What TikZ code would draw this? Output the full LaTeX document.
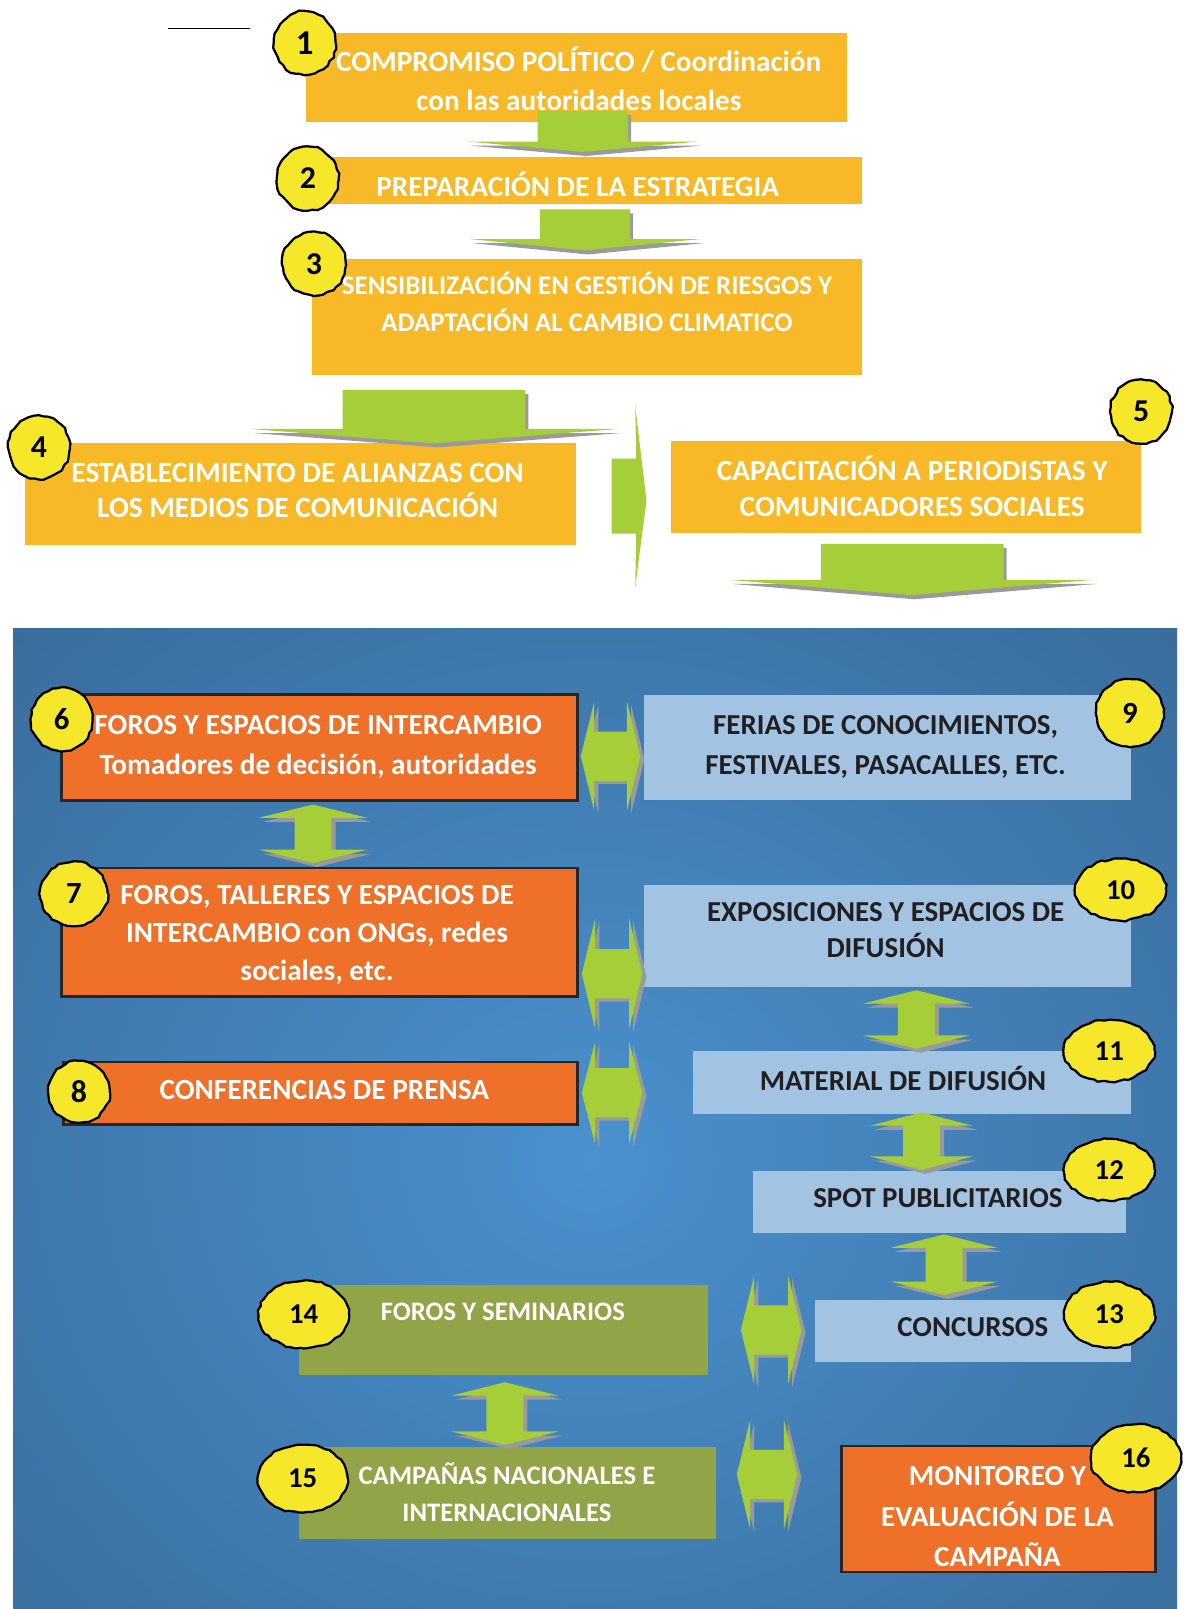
\documentclass[tikz,border=0pt]{standalone}
\usepackage{fontspec}
\setmainfont{Carlito}
\usetikzlibrary{shapes.geometric,decorations.pathmorphing}
\definecolor{topbox}{HTML}{F7B928}
\definecolor{arrg}{HTML}{A6CE39}
\definecolor{shad}{HTML}{9A9A9A}
\definecolor{orng}{HTML}{EE7029}
\definecolor{lblue}{HTML}{A2C4E2}
\definecolor{olive}{HTML}{91A447}
\definecolor{badgey}{HTML}{F6E72A}
\definecolor{bgdark}{HTML}{35638F}
\definecolor{bglight}{HTML}{4A91CE}
\definecolor{darktext}{HTML}{231F20}
\newcommand\mkbox[6]{\node[#6, minimum width={(#4-#2)*0.5pt}, minimum height={(#5-#3)*0.5pt}] (#1) at ({(#2+#4)/2},{(#3+#5)/2}) {};}
\newcommand\mkbadge[7]{\node[badge, minimum width={#4*0.5pt}, minimum height={#5*0.5pt}, font=\bfseries\fontsize{#7}{#7}\selectfont] (#1) at (#2,#3) {#6};}
% down arrow: shaft left, shaft right, shaft top, head y, head left, head right, tip y
\newcommand\dnArrow[7]{%
  \begin{scope}[shift={(3,4)}]
  \fill[shad] (#1,#3) -- (#2,#3) -- (#2,#4) -- (#6,#4) -- ({(#5+#6)/2},#7) -- (#5,#4) -- (#1,#4) -- cycle;
  \end{scope}
  \fill[arrg] (#1,#3) -- (#2,#3) -- (#2,#4) -- (#6,#4) -- ({(#5+#6)/2},#7) -- (#5,#4) -- (#1,#4) -- cycle;}
% vertical double arrow: cx, top, bottom, head half width, shaft half width, head length
\newcommand\vdPath[6]{(#1,#2) -- ({#1+#4},{#2+#6}) -- ({#1+#5},{#2+#6}) -- ({#1+#5},{#3-#6}) -- ({#1+#4},{#3-#6}) -- (#1,#3) -- ({#1-#4},{#3-#6}) -- ({#1-#5},{#3-#6}) -- ({#1-#5},{#2+#6}) -- ({#1-#4},{#2+#6}) -- cycle}
\newcommand\vdArrow[6]{%
  \begin{scope}[shift={(4,4)}]\fill[shad] \vdPath{#1}{#2}{#3}{#4}{#5}{#6};\end{scope}
  \fill[arrg] \vdPath{#1}{#2}{#3}{#4}{#5}{#6};}
% horizontal double arrow: cy, left, right, head half height, shaft half height, head length
\newcommand\hdPath[6]{(#2,#1) -- ({#2+#6},{#1-#4}) -- ({#2+#6},{#1-#5}) -- ({#3-#6},{#1-#5}) -- ({#3-#6},{#1-#4}) -- (#3,#1) -- ({#3-#6},{#1+#4}) -- ({#3-#6},{#1+#5}) -- ({#2+#6},{#1+#5}) -- ({#2+#6},{#1+#4}) -- cycle}
\newcommand\hdArrow[6]{%
  \begin{scope}[shift={(4,3)}]\fill[shad] \hdPath{#1}{#2}{#3}{#4}{#5}{#6};\end{scope}
  \fill[arrg] \hdPath{#1}{#2}{#3}{#4}{#5}{#6};}
\begin{document}
\begin{tikzpicture}[x=0.5pt,y=-0.5pt,
  tb/.style={fill=topbox, inner sep=0, outer sep=0},
  ob/.style={fill=orng, draw=black!85, line width=1.2pt, inner sep=0, outer sep=0},
  lb/.style={fill=lblue, inner sep=0, outer sep=0},
  gb/.style={fill=olive, inner sep=0, outer sep=0},
  wt/.style={text=white, align=center, inner sep=0, font=\bfseries\fontsize{14.25}{19}\selectfont},
  dt/.style={text=darktext, align=center, inner sep=0, font=\bfseries\fontsize{14.1}{19}\selectfont},
  badge/.style={ellipse, draw=black, line width=1.1pt, fill=badgey, inner sep=0,
    decorate, decoration={random steps, segment length=2.4pt, amplitude=0.5pt},
    text=black}]
\pgfmathsetseed{7}
\useasboundingbox (0,0) rectangle (1153,1568);
\fill[white] (0,0) rectangle (1153,1568);
\coordinate (l1) at (164,28);
\coordinate (l2) at (244,28);
\draw[line width=0.6pt] (l1) -- (l2);
% panel
\begin{scope}
\clip (13,612) rectangle (1147,1568);
\fill[bgdark] (13,612) rectangle (1147,1568);
\shade[inner color=bglight, outer color=bgdark] (575,1130) ellipse (1020 and 920);
\end{scope}
% boxes
\mkbox{b1}{298}{32}{825}{119}{tb}
\mkbox{b2}{318}{153}{840}{199}{tb}
\mkbox{b3}{304}{252}{840}{365}{tb}
\mkbox{b4}{24}{432}{561}{531}{tb}
\mkbox{b5}{654}{430}{1112}{519}{tb}
\mkbox{b6}{60}{677}{563}{780}{ob}
\mkbox{b7}{60}{846}{563}{971}{ob}
\mkbox{b8}{62}{1035}{563}{1096}{ob}
\mkbox{b9}{628}{677}{1102}{780}{lb}
\mkbox{b10}{628}{862}{1102}{962}{lb}
\mkbox{b11}{675}{1024}{1102}{1086}{lb}
\mkbox{b12}{734}{1141}{1097}{1202}{lb}
\mkbox{b13}{794}{1267}{1102}{1327}{lb}
\mkbox{b14}{291}{1252}{690}{1340}{gb}
\mkbox{b15}{291}{1410}{698}{1500}{gb}
\mkbox{b16}{820}{1409}{1126}{1532}{ob}
% arrows
\dnArrow{524}{612}{108}{138}{456}{680}{148}
\dnArrow{526}{614}{204}{233}{458}{682}{244}
\dnArrow{334}{512}{380}{418}{244}{602}{432}
\dnArrow{800}{978}{530}{565}{710}{1066}{580}
\fill[arrg] (596,447) -- (620,447) -- (619,395) -- (630,488) -- (619,572) -- (620,520) -- (596,520) -- cycle;
\vdArrow{305}{784}{841}{53}{18}{13}
\vdArrow{893}{965}{1022}{52}{18}{13}
\vdArrow{898}{1084}{1140}{50}{18}{13}
\vdArrow{920}{1203}{1262}{52}{18}{13}
\vdArrow{492}{1347}{1408}{52}{18}{13}
\hdArrow{737}{566}{624}{53}{24}{13}
\hdArrow{949}{567}{626}{54}{24}{13}
\hdArrow{1065}{567}{626}{50}{24}{13}
\hdArrow{1296}{722}{781}{53}{24}{13}
\hdArrow{1437}{718}{777}{53}{24}{13}
% texts
\node[wt] (t1) at (564,77) {COMPROMISO POLÍTICO / Coordinación\\con las autoridades locales};
\node[wt] (t2) at (563,180) {PREPARACIÓN DE LA ESTRATEGIA};
\node[wt, font=\bfseries\fontsize{13.1}{18}\selectfont] (t3) at (572,294) {SENSIBILIZACIÓN EN GESTIÓN DE RIESGOS Y\\ADAPTACIÓN AL CAMBIO CLIMATICO};
\node[wt, font=\bfseries\fontsize{14.3}{17.5}\selectfont] (t4) at (290,478) {ESTABLECIMIENTO DE ALIANZAS CON\\LOS MEDIOS DE COMUNICACIÓN};
\node[wt, font=\bfseries\fontsize{14.3}{17.5}\selectfont] (t5) at (889,474) {CAPACITACIÓN A PERIODISTAS Y\\COMUNICADORES SOCIALES};
\node[wt, font=\bfseries\fontsize{14.25}{19.5}\selectfont] (t6) at (310,728) {FOROS Y ESPACIOS DE INTERCAMBIO\\Tomadores de decisión, autoridades};
\node[wt, font=\bfseries\fontsize{14.25}{18.5}\selectfont] (t7) at (309,911) {FOROS, TALLERES Y ESPACIOS DE\\INTERCAMBIO con ONGs, redes\\sociales, etc.};
\node[wt] (t8) at (316,1062) {CONFERENCIAS DE PRENSA};
\node[dt, font=\bfseries\fontsize{14.1}{19.5}\selectfont] (t9) at (863,728) {FERIAS DE CONOCIMIENTOS,\\FESTIVALES, PASACALLES, ETC.};
\node[dt, font=\bfseries\fontsize{14.1}{17.5}\selectfont] (t10) at (863,906) {EXPOSICIONES Y ESPACIOS DE\\DIFUSIÓN};
\node[dt] (t11) at (880,1051) {MATERIAL DE DIFUSIÓN};
\node[dt] (t12) at (914,1168) {SPOT PUBLICITARIOS};
\node[dt] (t13) at (948,1293) {CONCURSOS};
\node[wt, font=\bfseries\fontsize{13}{18}\selectfont] (t14) at (490,1278) {FOROS Y SEMINARIOS};
\node[wt, font=\bfseries\fontsize{13}{18}\selectfont] (t15) at (494,1454) {CAMPAÑAS NACIONALES E\\INTERNACIONALES};
\node[wt, font=\bfseries\fontsize{14.2}{19.75}\selectfont] (t16) at (972,1478) {MONITOREO Y\\EVALUACIÓN DE LA\\CAMPAÑA};
% badges
\mkbadge{n1}{297}{42}{60}{62}{1}{17}
\mkbadge{n2}{300}{174}{60}{62}{2}{15.5}
\mkbadge{n3}{306}{257}{62}{62}{3}{15.5}
\mkbadge{n4}{38}{436}{60}{62}{4}{15.5}
\mkbadge{n5}{1112}{401}{60}{62}{5}{15.5}
\mkbadge{n6}{60}{701}{60}{62}{6}{15}
\mkbadge{n7}{72}{871}{66}{62}{7}{15}
\mkbadge{n8}{77}{1064}{60}{60}{8}{15.5}
\mkbadge{n9}{1101}{695}{66}{66}{9}{15}
\mkbadge{n10}{1092}{867}{88}{60}{10}{14}
\mkbadge{n11}{1081}{1024}{88}{60}{11}{14}
\mkbadge{n12}{1081}{1140}{88}{60}{12}{14}
\mkbadge{n13}{1081}{1281}{88}{64}{13}{14}
\mkbadge{n14}{296}{1281}{88}{66}{14}{14}
\mkbadge{n15}{295}{1441}{88}{66}{15}{14}
\mkbadge{n16}{1107}{1421}{88}{66}{16}{14}
\end{tikzpicture}
\end{document}
